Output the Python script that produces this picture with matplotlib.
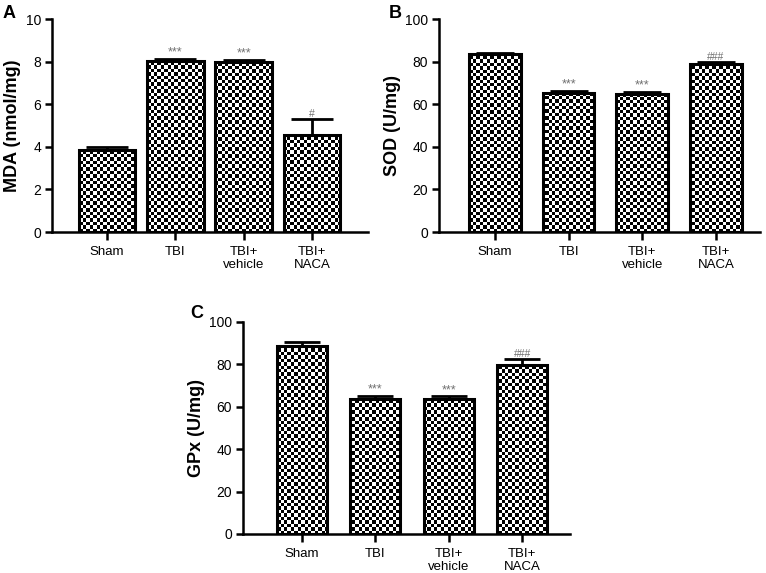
import numpy as np
import matplotlib
matplotlib.use("Agg")
import matplotlib.pyplot as plt

plt.rcParams['font.family'] = ['Liberation Sans', 'DejaVu Sans']

groups = ["Sham", "TBI", "TBI+\nvehicle", "TBI+\nNACA"]

mda_mean = [3.83, 8.03, 7.97, 4.56]
mda_err = [0.15, 0.11, 0.11, 0.74]
mda_marks = ["", "***", "***", "#"]

sod_mean = [83.5, 65.3, 64.7, 78.7]
sod_err = [0.6, 1.0, 0.9, 1.0]
sod_marks = ["", "***", "***", "###"]

gpx_mean = [88.7, 63.8, 63.8, 79.8]
gpx_err = [1.9, 1.2, 1.1, 2.5]
gpx_marks = ["", "***", "***", "###"]


def checker_fill(ax, bars, cell_px=3.4):
    # checkerboard texture clipped to each bar
    bbox = ax.get_window_extent()
    nx = int(round(bbox.width / cell_px))
    ny = int(round(bbox.height / cell_px))
    grid = (np.add.outer(np.arange(ny), np.arange(nx)) % 2).astype(float)
    for b in bars:
        im = ax.imshow(grid, cmap="gray", vmin=0, vmax=1, extent=[0, 1, 0, 1],
                       transform=ax.transAxes, interpolation="nearest",
                       aspect="auto", zorder=2)
        im.set_clip_path(b)


def panel(fig, rect, means, errs, marks, ylim, yticks, ylabel, xlim, width,
          capsize, letter, letter_xy, mark_off):
    ax = fig.add_axes(rect)
    x = np.arange(len(means))
    bars = ax.bar(x, means, width=width, color="none", edgecolor="black",
                  linewidth=2.2, zorder=3)
    checker_fill(ax, bars)
    ax.errorbar(x, means, yerr=[np.zeros(len(errs)), errs], fmt="none",
                ecolor="black", elinewidth=2, capsize=capsize, capthick=2,
                zorder=4)
    for xi, m, e, t in zip(x, means, errs, marks):
        if t:
            fs = 9 if "*" in t else 7.5
            ax.text(xi, m + e + mark_off, t, ha="center", va="bottom",
                    fontsize=fs, color="#707070", zorder=5)
    ax.set_xlim(*xlim)
    ax.set_ylim(*ylim)
    ax.set_yticks(yticks)
    ax.set_xticks(x)
    ax.set_xticklabels(groups, fontsize=9.5, linespacing=1.1)
    ax.tick_params(axis="y", direction="out", length=5, width=1.8,
                   labelsize=10, pad=3)
    ax.tick_params(axis="x", direction="out", length=6, width=1.8, pad=4)
    ax.spines["top"].set_visible(False)
    ax.spines["right"].set_visible(False)
    ax.spines["left"].set_linewidth(1.8)
    ax.spines["bottom"].set_linewidth(1.8)
    ax.set_ylabel(ylabel, fontsize=13, fontweight="bold", labelpad=3)
    fig.text(letter_xy[0], letter_xy[1], letter, fontsize=13,
             fontweight="bold", ha="left", va="top")
    return ax


fig = plt.figure(figsize=(7.66, 5.73), dpi=100)

panel(fig, [0.0679, 0.5951, 0.4125, 0.3717], mda_mean, mda_err, mda_marks,
      (0, 10), [0, 2, 4, 6, 8, 10], "MDA (nmol/mg)", (-0.805, 3.82), 0.83,
      15, "A", (0.003, 0.992), 0.02)

panel(fig, [0.5731, 0.5951, 0.4191, 0.3717], sod_mean, sod_err, sod_marks,
      (0, 100), [0, 20, 40, 60, 80, 100], "SOD (U/mg)", (-0.76, 3.6), 0.70,
      14, "B", (0.508, 0.992), 0.2)

panel(fig, [0.3172, 0.0681, 0.4269, 0.370], gpx_mean, gpx_err, gpx_marks,
      (0, 100), [0, 20, 40, 60, 80, 100], "GPx (U/mg)", (-0.8, 3.65), 0.68,
      13, "C", (0.249, 0.467), 0.2)

fig.savefig("out.png", dpi=100)
